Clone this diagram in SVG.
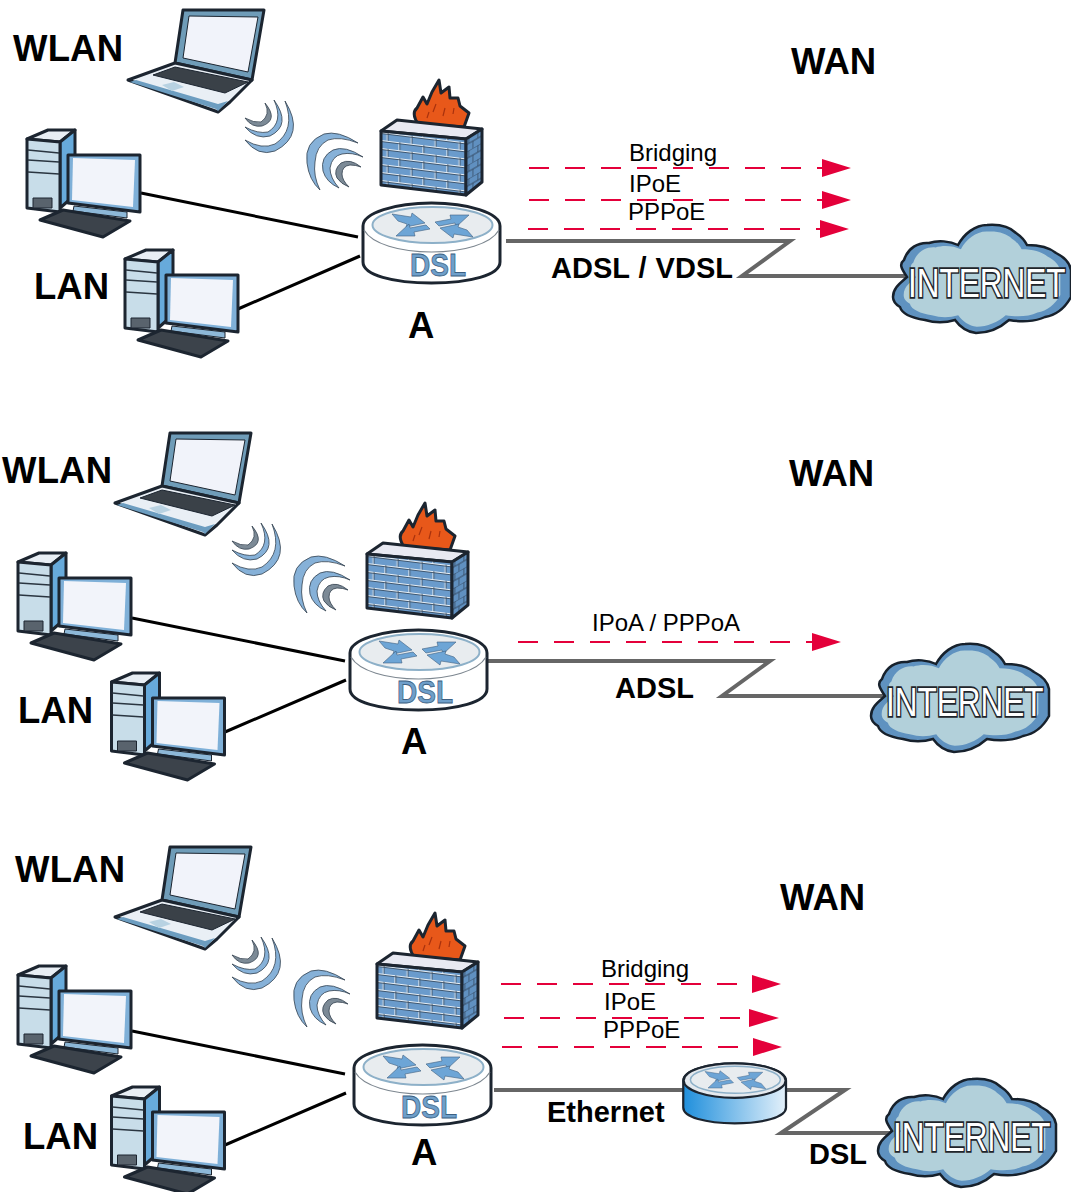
<svg xmlns="http://www.w3.org/2000/svg" width="1071" height="1192" viewBox="0 0 1071 1192">
<style>
text{font-family:"Liberation Sans",Arial,sans-serif;fill:#000}
.big{font-size:36.500px;font-weight:700}
.mid{font-size:29px;font-weight:700}
.small{font-size:24px}
.dsl{font-size:32px;font-weight:700;fill:#6e9fca;stroke:#3c5f82;stroke-width:.8}
.inet{font-size:31.500px;fill:#fff;stroke:#1f252b;stroke-width:2.600;paint-order:stroke}
.eth{fill:none;stroke:#000;stroke-width:3}
.wan{fill:none;stroke:#666;stroke-width:4}
.dash{fill:none;stroke:#e4003a;stroke-width:2;stroke-dasharray:20 16}
.head{fill:#e4003a}
.o{stroke:#1c2530;stroke-width:3;stroke-linejoin:round}
.t{stroke:#1c2530;stroke-width:1;stroke-linejoin:round}
.wave{fill:#86b1d8;stroke:#33414f;stroke-width:.8;stroke-linejoin:round}
.waveg{fill:#7c8a96;stroke:#33414f;stroke-width:.8;stroke-linejoin:round}
</style>
<defs>
<pattern id="bricks" width="24" height="16" patternUnits="userSpaceOnUse" patternTransform="translate(381 132) skewY(7)">
<rect width="24" height="16" fill="#6a9bcc"/>
<path d="M0 .5H24M0 8.500H24M6 0V8M18 8V16" stroke="#e6eef5" stroke-width="1" fill="none"/>
<path d="M0 1.500H24M0 9.500H24M7 0V8M19 8V16" stroke="#34465a" stroke-width=".8" fill="none"/>
</pattern>
<pattern id="bricks2" width="9" height="14" patternUnits="userSpaceOnUse" patternTransform="translate(466 138) skewY(-30)">
<rect width="9" height="14" fill="#6090c0"/>
<path d="M0 0H9M0 7H9M3 0V7M7 7V14" stroke="#2f4258" stroke-width=".8" fill="none"/>
</pattern>
<linearGradient id="blueBody" x1="0" x2="1" y1="0" y2="0">
<stop offset="0" stop-color="#1f8fdc"/><stop offset="1" stop-color="#e3f0fa"/>
</linearGradient>
<g id="laptop">
<path class="o" fill="#6f9cb8" d="M183 10H264L252 80L175 63Z"/>
<path class="t" fill="#f1f3fa" stroke-width=".6" d="M189 16L258 17L248 72L183 58Z"/>
<path class="o" fill="#e9eff5" d="M128 80L175 63L252 80L230 102L218 112Z"/>
<path fill="#6c9dc0" d="M130 82L216 109L218 111L228 101L218 104L136 80Z"/>
<path class="t" fill="#3a4148" stroke-width=".6" d="M153 75L175 67L248 82L225 93Z"/>
<path fill="#b8d2e2" d="M162 85L174 82L184 87L172 91Z"/>
</g>
<g id="pc">
<path class="o" fill="#e8eef4" d="M27 139L48 130H75L60 142Z"/>
<path class="o" fill="#67aadb" d="M60 142L75 130V195L60 208Z"/>
<path class="o" fill="#c8dde9" d="M27 139L60 142V212L27 208Z"/>
<path fill="none" stroke="#2a3540" stroke-width="1.500" d="M28 150L59 153M28 160L59 162M28 172L59 174"/>
<path class="t" fill="#59636d" d="M33 198H52V208H33Z"/>
<path class="o" fill="#7fb0d8" d="M68 155L140 155V212L68 203Z"/>
<path fill="#f2f4fa" d="M73 158L135 160L133 207L72 200Z"/>
<path class="t" fill="#8db8d8" d="M74 206L127 212V218L73 211Z"/>
<path class="o" fill="#3c434b" d="M40 220L63 210L130 221L103 237Z"/>
</g>
<g id="waveA">
<path class="wave" d="M285 101Q306 135 275 151Q258 157 245 140Q262 150 275 144Q296 130 285 101Z"/>
<path class="wave" d="M274 100Q292 125 270 136Q256 140 245 127Q258 134 268 132Q284 122 274 100Z"/>
<path class="waveg" d="M265 103Q279 120 262 126Q252 128 245 118Q254 123 261 122Q271 115 265 103Z"/>
</g>
<g id="waveB">
<path class="wave" d="M358 143Q338 130 324 134Q304 142 307 163Q309 180 320 190Q313 176 315 162Q316 146 328 140Q340 136 358 143Z"/>
<path class="wave" d="M363 157Q345 145 333 150Q320 157 323 171Q326 182 339 188Q330 178 330 168Q332 156 342 154Q352 152 363 157Z"/>
<path class="waveg" d="M361 167Q350 158 341 163Q333 170 337 178Q341 184 349 187Q342 180 342 174Q342 166 350 165Q356 165 361 167Z"/>
</g>
<g id="firewall">
<path class="o" fill="#e8581a" d="M418 124Q411 113 417 108L423 97L427 104L432 92L439 80L441 93L449 87L450 98L458 98L460 106L469 113L464 127Z"/>
<path fill="none" stroke="#a8320e" stroke-width="1.200" d="M433 112L436 104M443 116L445 108M427 118L429 112M453 114L454 108"/>
<path class="o" fill="#e8e9f2" d="M381 131L397 120L482 129L466 139Z"/>
<path class="o" fill="url(#bricks)" d="M381 131L466 139V195L381 185Z"/>
<path class="o" fill="url(#bricks2)" d="M466 139L482 129V182L466 195Z"/>
</g>
<g id="routerTop">
<ellipse cx="432.500" cy="225" rx="60" ry="18" fill="#e8ecef" stroke="#8db0c8" stroke-width="2"/>
<g fill="#6da5d6" stroke="#3f5f7f" stroke-width=".6" stroke-linejoin="round">
<path id="ra" d="M392 214L411 217L412 213L425 223L406 227L407 224L398 221Z"/>
<path d="M435 222L451 219L450 215L469 215L456 227L455 223L439 226Z"/>
<path transform="rotate(180 432.500 225.500)" d="M392 214L411 217L412 213L425 223L406 227L407 224L398 221Z"/>
<path transform="rotate(180 432.500 225.500)" d="M435 222L451 219L450 215L469 215L456 227L455 223L439 226Z"/>
</g>
</g>
<path id="cloudShape" d="M893 297C893 287 902 282 907 277C901 268 899 264 904 260C908 248 918 242 929 243C938 240 950 241 958 245C964 234 975 225 987 225C1000 224 1010 227 1016 233C1022 237 1025 241 1027 245C1040 245 1050 248 1056 253C1066 258 1070 264 1071 270V297C1065 308 1056 315 1045 317C1035 322 1020 322 1009 320C1000 328 988 333 976 333C967 332 960 327 955 320C945 323 935 323 925 320C912 318 902 314 900 307C895 304 893 301 893 297Z"/>
<g id="cloud">
<use href="#cloudShape" fill="#5f92c0" stroke="#17212c" stroke-width="2.500"/>
<g transform="translate(982 280) scale(.88) translate(-982 -280)"><use href="#cloudShape" fill="#b2d0da"/></g>
</g>
<g id="routerBody">
<path class="o" fill="#fff" d="M363 226C363 213 395 203 431.500 203S500 213 500 226V262C500 275 470 283 431.500 283S363 275 363 262Z"/>
<path fill="none" stroke="#7d8790" stroke-width="1.200" d="M364 230C372 244 400 252 431.500 252S491 244 499 230"/>
</g>
</defs>
<rect width="1071" height="1192" fill="#fff"/>

<g id="connectors">
<path class="eth" d="M141 193L358 237M238 309L360 256"/>
<path class="wan" d="M506 241H790L742 276H905"/>
<path class="dash" d="M529 168H822M529 200H822M528 229H820"/>
<path class="head" d="M822 159L851 168L822 177ZM822 191L851 200L822 209ZM820 220L849 229L820 238Z"/>
<path class="eth" d="M132 618L345 661M225 732L346 680"/>
<path class="wan" d="M488 661H770L722 696H885"/>
<path class="dash" d="M518 642H812"/>
<path class="head" d="M812 633L841 642L812 651Z"/>
<path class="eth" d="M132 1031L345 1074M225 1145L346 1093"/>
<path class="wan" d="M494 1090H684M786 1090H845L781 1133H893"/>
<path class="dash" d="M501 984H752M504 1018H749M502 1047H753"/>
<path class="head" d="M752 975L781 984L752 993ZM749 1009L779 1018L749 1027ZM753 1038L782 1047L753 1056Z"/>
</g>

<g id="panel1">
<g id="laptop1"><use href="#laptop"/></g>
<g id="pc1a"><use href="#pc"/></g>
<g id="pc1b"><use href="#pc" transform="translate(98 120)"/></g>
<g id="wave1a"><use href="#waveA"/></g>
<g id="wave1b"><use href="#waveB"/></g>
<g id="firewall1"><use href="#firewall"/></g>
<g id="router1">
<use href="#routerBody"/><use href="#routerTop"/>
<text class="dsl" x="410" y="276" textLength="56" lengthAdjust="spacingAndGlyphs">DSL</text>
</g>
<g id="cloud1"><use href="#cloud"/><text class="inet" transform="translate(908 297) scale(1 1.300)">INTERNET</text></g>
</g>

<g id="panel2">
<g id="laptop2"><use href="#laptop" transform="translate(-13 423)"/></g>
<g id="pc2a"><use href="#pc" transform="translate(-9 423)"/></g>
<g id="pc2b"><use href="#pc" transform="translate(84.500 543)"/></g>
<g id="wave2a"><use href="#waveA" transform="translate(-13 423)"/></g>
<g id="wave2b"><use href="#waveB" transform="translate(-13 423)"/></g>
<g id="firewall2"><use href="#firewall" transform="translate(-14 423)"/></g>
<g id="router2" transform="translate(-13 427)">
<use href="#routerBody"/><use href="#routerTop"/>
<text class="dsl" x="410" y="276" textLength="56" lengthAdjust="spacingAndGlyphs">DSL</text>
</g>
<g id="cloud2" transform="translate(-22 419)"><use href="#cloud"/><text class="inet" transform="translate(908 297) scale(1 1.300)">INTERNET</text></g>
</g>

<g id="panel3">
<g id="laptop3"><use href="#laptop" transform="translate(-13 837)"/></g>
<g id="pc3a"><use href="#pc" transform="translate(-9 836)"/></g>
<g id="pc3b"><use href="#pc" transform="translate(84.500 957)"/></g>
<g id="wave3a"><use href="#waveA" transform="translate(-13 837)"/></g>
<g id="wave3b"><use href="#waveB" transform="translate(-13 837)"/></g>
<g id="firewall3"><use href="#firewall" transform="translate(-4 833)"/></g>
<g id="router3" transform="translate(-9 842)">
<use href="#routerBody"/><use href="#routerTop"/>
<text class="dsl" x="410" y="276" textLength="56" lengthAdjust="spacingAndGlyphs">DSL</text>
</g>
<g id="modem" transform="translate(411 911) scale(.75)">
<path class="o" fill="url(#blueBody)" stroke-width="3.500" d="M363 226C363 213 395 203 431.500 203S500 213 500 226V262C500 275 470 283 431.500 283S363 275 363 262Z"/>
<ellipse class="o" cx="431.500" cy="226" rx="68" ry="23" fill="#e4e9ee"/>
<use href="#routerTop"/>
</g>
<g id="cloud3" transform="translate(-15 854)"><use href="#cloud"/><text class="inet" transform="translate(908 297) scale(1 1.300)">INTERNET</text></g>
</g>

<g id="labels">
<text class="big" x="13" y="61" textLength="110">WLAN</text>
<text class="big" x="791" y="74">WAN</text>
<text class="big" x="34" y="299">LAN</text>
<text class="big" x="408" y="338">A</text>
<text class="small" x="629" y="161">Bridging</text>
<text class="small" x="629" y="192">IPoE</text>
<text class="small" x="628" y="220">PPPoE</text>
<text class="mid" x="551" y="278" word-spacing="1">ADSL / VDSL</text>
<text class="big" x="2" y="483" textLength="110">WLAN</text>
<text class="big" x="789" y="486">WAN</text>
<text class="big" x="18" y="723">LAN</text>
<text class="big" x="401" y="754">A</text>
<text class="small" x="592" y="631">IPoA / PPPoA</text>
<text class="mid" x="615" y="698">ADSL</text>
<text class="big" x="15" y="882" textLength="110">WLAN</text>
<text class="big" x="780" y="910">WAN</text>
<text class="big" x="23" y="1149">LAN</text>
<text class="big" x="411" y="1165">A</text>
<text class="small" x="601" y="977">Bridging</text>
<text class="small" x="604" y="1010">IPoE</text>
<text class="small" x="603" y="1038">PPPoE</text>
<text class="mid" x="547" y="1122">Ethernet</text>
<text class="mid" x="809" y="1164">DSL</text>
</g>
</svg>
